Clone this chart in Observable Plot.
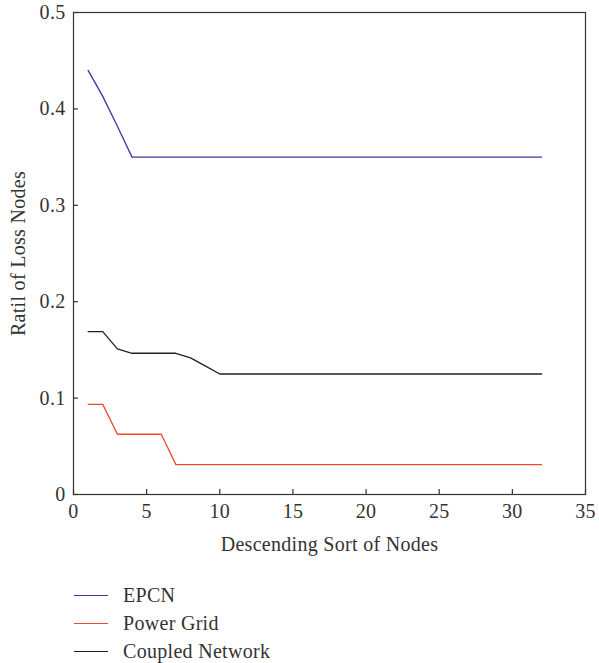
<!DOCTYPE html>
<html>
<head>
<meta charset="utf-8">
<script src="https://cdn.jsdelivr.net/npm/d3@7"></script>
<script src="https://cdn.jsdelivr.net/npm/@observablehq/plot@0.6"></script>
<style>
  body { margin: 0; background: #fff; font-family: "Liberation Serif", "DejaVu Serif", serif; }
  #chart svg { display: block; }
  .legend { margin-top: 6px; padding-left: 74px; font-size: 20px; letter-spacing: 0.3px; color: #333; }
  .legend .row { display: flex; align-items: center; height: 28px; }
  .legend .sw { width: 34px; height: 0; border-top: 1.5px solid; margin-right: 15px; }
</style>
</head>
<body>
<div id="chart"></div>
<div class="legend" id="legend"></div>
<script>
const nodes = d3.range(1, 33);
const epcn = [0.44, 0.413, 0.382, 0.35, 0.35, 0.35, 0.35, 0.35, 0.35, 0.35, 0.35, 0.35, 0.35, 0.35, 0.35, 0.35,
              0.35, 0.35, 0.35, 0.35, 0.35, 0.35, 0.35, 0.35, 0.35, 0.35, 0.35, 0.35, 0.35, 0.35, 0.35, 0.35];
const powerGrid = [0.0935, 0.0935, 0.0625, 0.0625, 0.0625, 0.0625, 0.031, 0.031, 0.031, 0.031, 0.031, 0.031, 0.031, 0.031, 0.031, 0.031,
                   0.031, 0.031, 0.031, 0.031, 0.031, 0.031, 0.031, 0.031, 0.031, 0.031, 0.031, 0.031, 0.031, 0.031, 0.031, 0.031];
const coupled = [0.169, 0.169, 0.151, 0.1465, 0.1465, 0.1465, 0.1465, 0.1417, 0.1335, 0.125, 0.125, 0.125, 0.125, 0.125, 0.125, 0.125,
                 0.125, 0.125, 0.125, 0.125, 0.125, 0.125, 0.125, 0.125, 0.125, 0.125, 0.125, 0.125, 0.125, 0.125, 0.125, 0.125];
const seriesNames = ["EPCN", "Power Grid", "Coupled Network"];
const seriesColors = ["#3b35a3", "#f0492b", "#222222"];
const xTicks = [0, 5, 10, 15, 20, 25, 30, 35];
const yTicks = [0, 0.1, 0.2, 0.3, 0.4, 0.5];
const xLabel = "Descending Sort of Nodes";
const yLabel = "Ratil of Loss Nodes";

const allValues = [epcn, powerGrid, coupled];
const data = [];
allValues.forEach((vals, si) => vals.forEach((v, i) => data.push({x: nodes[i], y: v, s: seriesNames[si]})));

const W = 599, H = 575, mL = 73, mR = 14, mT = 12, mB = 81;
const plotW = W - mL - mR, plotH = H - mT - mB, tickLen = 5;

const chart = Plot.plot({
  width: W,
  height: H,
  marginLeft: mL,
  marginRight: mR,
  marginTop: mT,
  marginBottom: mB,
  style: {fontFamily: "Liberation Serif, DejaVu Serif, serif", fontSize: "20px", color: "#333", background: "#fff", letterSpacing: "0.3px"},
  x: {domain: [0, 35], ticks: xTicks},
  y: {domain: [0, 0.5], ticks: yTicks},
  color: {domain: seriesNames, range: seriesColors},
  marks: [
    Plot.frame({stroke: "#333", strokeWidth: 1.2}),
    Plot.tickX(xTicks, {x: d => d, insetTop: plotH - tickLen, stroke: "#333", strokeWidth: 1.2}),
    Plot.tickY(yTicks, {y: d => d, insetRight: plotW - tickLen, stroke: "#333", strokeWidth: 1.2}),
    Plot.axisX({ticks: xTicks, tickSize: 0, tickPadding: 9, label: null, tickFormat: d => String(d), fill: "#333", fontSize: 20}),
    Plot.axisY({ticks: yTicks, tickSize: 0, tickPadding: 8, label: null, tickFormat: d => d === 0 ? "0" : d3.format(".1f")(d), fill: "#333", fontSize: 20}),
    Plot.text([xLabel], {frameAnchor: "bottom", dy: 56, fill: "#333", fontSize: 20}),
    Plot.text([yLabel], {frameAnchor: "left", textAnchor: "middle", dx: -55, rotate: -90, fill: "#333", fontSize: 20}),
    Plot.line(data, {x: "x", y: "y", stroke: "s", z: "s", strokeWidth: 1.3})
  ]
});
document.getElementById("chart").appendChild(chart);

const legend = document.getElementById("legend");
seriesNames.forEach((n, i) => {
  const row = document.createElement("div");
  row.className = "row";
  const sw = document.createElement("span");
  sw.className = "sw";
  sw.style.borderColor = seriesColors[i];
  const t = document.createElement("span");
  t.textContent = n;
  row.appendChild(sw);
  row.appendChild(t);
  legend.appendChild(row);
});
</script>
</body>
</html>
